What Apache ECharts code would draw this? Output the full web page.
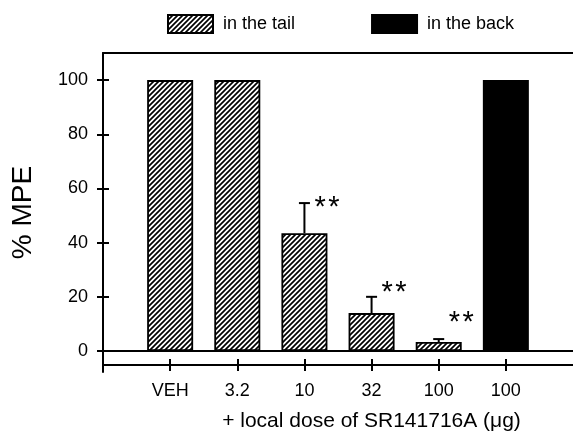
<!DOCTYPE html>
<html>
<head>
<meta charset="utf-8">
<script src="https://cdn.jsdelivr.net/npm/echarts@6/dist/echarts.min.js"></script>
<style>
  html, body { margin: 0; padding: 0; background: #fff; }
  #chart { width: 573px; height: 432px; }
</style>
</head>
<body>
<div id="chart"></div>
<script>
// dose groups, in axis order
var doseLabels = ['VEH', '3.2', '10', '32', '100', '100'];
var yTicks = [0, 20, 40, 60, 80, 100];

// SR141716A given in the tail (positions 1..5)
var tailX = [1, 2, 3, 4, 5];
var tailMPE = [100, 100, 43.5, 14, 3.3];

// SR141716A given in the back (position 6)
var backX = [6];
var backMPE = [100];

// upper error (mean + SEM) and where the ** marks sit
var errX = [3, 4, 5];
var errTop = [54.6, 20, 4.4];
var starAt = [52.8, 21.4, 10.5];

function hatch() {
    var c = document.createElement('canvas');
    c.width = 5;
    c.height = 5;
    var g = c.getContext('2d');
    g.fillStyle = '#fff';
    g.fillRect(0, 0, 5, 5);
    g.strokeStyle = '#000';
    g.lineWidth = 1.7;
    g.beginPath();
    g.moveTo(-1, 6); g.lineTo(6, -1);
    g.moveTo(-1, 1); g.lineTo(1, -1);
    g.moveTo(4, 6); g.lineTo(6, 4);
    g.stroke();
    return c;
}

var tailData = tailX.map(function (x, i) { return [x, tailMPE[i]]; });
var backData = backX.map(function (x, i) { return [x, backMPE[i]]; });
var errData = errX.map(function (x, i) {
    var k = tailX.indexOf(x);
    return [x, tailMPE[k], errTop[i], starAt[i]];
});
var xTicks = doseLabels.map(function (d, i) { return i + 1; });

var black = '#000';
var font = '"Liberation Sans", Arial, sans-serif';

var chartDom = document.getElementById('chart');
var myChart = echarts.init(chartDom);
var option;

option = {
    animation: false,
    textStyle: { fontFamily: font, color: black },
    legend: {
        left: 167,
        top: 14,
        padding: 0,
        itemWidth: 45,
        itemHeight: 18,
        itemGap: 76,
        icon: 'rect',
        textStyle: { fontSize: 18, color: black, padding: [0, 0, 0, 5] },
        data: ['in the tail', 'in the back']
    },
    grid: { left: 103, right: 0, top: 53, bottom: 60, outerBoundsMode: 'none' },
    xAxis: [
        {
            type: 'value',
            min: 0,
            max: 7,
            position: 'bottom',
            offset: -7,
            splitLine: { show: false },
            axisLine: { show: true, onZero: false, lineStyle: { color: black, width: 2 } },
            axisTick: { show: true, customValues: xTicks, length: 6, lineStyle: { color: black, width: 2 } },
            axisLabel: {
                customValues: xTicks,
                fontSize: 18,
                color: black,
                margin: 17,
                formatter: function (v) { return doseLabels[v - 1]; }
            },
            name: '+ local dose of SR141716A (\u03bcg)',
            nameLocation: 'middle',
            nameGap: 46,
            nameTextStyle: { fontSize: 21, color: black, padding: [0, 0, 0, 67] }
        },
        {
            type: 'value',
            min: 0,
            max: 7,
            position: 'top',
            splitLine: { show: false },
            axisLine: { show: true, onZero: false, lineStyle: { color: black, width: 2 } },
            axisTick: { show: false },
            axisLabel: { show: false }
        },
        {
            type: 'value',
            min: 0,
            max: 7,
            position: 'bottom',
            offset: -7,
            splitLine: { show: false },
            axisLine: { show: false, onZero: false },
            axisTick: { show: true, inside: true, customValues: xTicks, length: 6, lineStyle: { color: black, width: 2 } },
            axisLabel: { show: false }
        }
    ],
    yAxis: [
        {
            type: 'value',
            min: -7.75,
            max: 110,
            splitLine: { show: false },
            axisLine: { show: true, onZero: false, lineStyle: { color: black, width: 2 } },
            axisTick: { show: true, customValues: yTicks, length: 6, lineStyle: { color: black, width: 2 } },
            axisLabel: { customValues: yTicks, fontSize: 18, color: black, margin: 15 },
            name: '% MPE',
            nameLocation: 'middle',
            nameGap: 66,
            nameTextStyle: { fontSize: 28, color: black }
        },
        {
            type: 'value',
            min: -7.75,
            max: 110,
            position: 'left',
            splitLine: { show: false },
            axisLine: { show: false, onZero: false },
            axisTick: { show: true, inside: true, customValues: yTicks, length: 6, lineStyle: { color: black, width: 2 } },
            axisLabel: { show: false }
        }
    ],
    series: [
        {
            name: 'in the tail',
            type: 'bar',
            xAxisIndex: 0,
            yAxisIndex: 0,
            barWidth: 46,
            barGap: '-100%',
            data: tailData,
            itemStyle: { color: { image: hatch(), repeat: 'repeat' }, borderColor: black, borderWidth: 1.8 },
            markLine: {
                silent: true,
                symbol: 'none',
                label: { show: false },
                lineStyle: { color: black, width: 2, type: 'solid' },
                data: [{ yAxis: 0 }]
            }
        },
        {
            name: 'in the back',
            type: 'bar',
            xAxisIndex: 0,
            yAxisIndex: 0,
            barWidth: 46,
            barGap: '-100%',
            data: backData,
            itemStyle: { color: black, borderColor: black, borderWidth: 1.8 }
        },
        {
            type: 'custom',
            xAxisIndex: 0,
            yAxisIndex: 0,
            data: errData,
            z: 3,
            renderItem: function (params, api) {
                var x = api.value(0);
                var base = api.coord([x, api.value(1)]);
                var top = api.coord([x, api.value(2)]);
                var star = api.coord([x, api.value(3)]);
                var st = { stroke: black, lineWidth: 2 };
                return {
                    type: 'group',
                    children: [
                        { type: 'line', shape: { x1: base[0], y1: base[1], x2: top[0], y2: top[1] }, style: st },
                        { type: 'line', shape: { x1: top[0] - 5.5, y1: top[1], x2: top[0] + 5.5, y2: top[1] }, style: st },
                        {
                            type: 'text',
                            x: star[0] + 10,
                            y: star[1],
                            style: {
                                text: '*\u200a*',
                                fill: black,
                                fontSize: 29,
                                fontFamily: font,
                                align: 'left',
                                verticalAlign: 'middle'
                            }
                        }
                    ]
                };
            }
        }
    ]
};

option && myChart.setOption(option);
</script>
</body>
</html>
